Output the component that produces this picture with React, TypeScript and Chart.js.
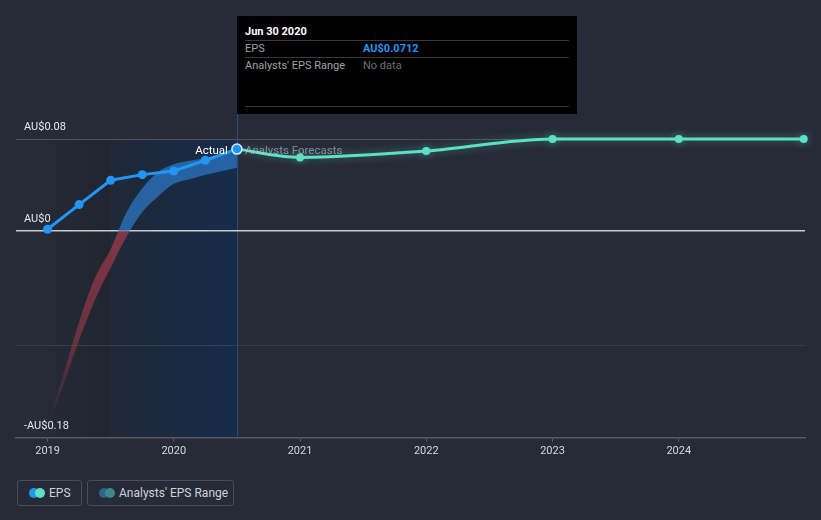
import React, { useEffect, useRef } from "react";
import { Chart, registerables } from "chart.js";

Chart.register(...registerables);

// ---- data ----
const actualDates = [2019.0, 2019.25, 2019.5, 2019.75, 2020.0, 2020.25, 2020.5];
const actualEps = [0.0015, 0.0229, 0.0441, 0.049, 0.0522, 0.0615, 0.0712];

const forecastDates = [2020.5, 2021.0, 2022.0, 2023.0, 2024.0, 2024.99];
const forecastEps = [0.0712, 0.064, 0.0695, 0.08, 0.08, 0.08];

const rangeDates = [2019.0, 2019.125, 2019.25, 2019.375, 2019.5, 2019.625, 2019.75, 2019.875, 2020.0, 2020.125, 2020.25, 2020.375, 2020.5];
const rangeHigh = [-0.17, -0.125, -0.079, -0.041, -0.016, 0.016, 0.037, 0.051, 0.058, 0.061, 0.0635, 0.066, 0.0687];
const rangeLow = [-0.17, -0.134, -0.095, -0.06, -0.032, -0.005, 0.0165, 0.03, 0.041, 0.045, 0.049, 0.052, 0.055];

const yearTicks = [2019, 2020, 2021, 2022, 2023, 2024];
const yTicks = [-0.18, -0.1, 0, 0.08];
const yLabels: Record<string, string> = { "-0.18": "-AU$0.18", "-0.1": "", "0": "AU$0", "0.08": "AU$0.08" };

const pastStart = 2019.0;
const highlightStart = 2019.5;
const highlightEnd = 2020.5;

const FONT = "Roboto, 'Open Sans', sans-serif";
const BG = "#262b37";
const BLUE = "#2196f3";
const TEAL = "#5de0c5";

const shadePlugin = {
  id: "shade",
  beforeDraw(chart: any) {
    const { ctx, chartArea, scales } = chart;
    const x = scales.x;
    const x0 = x.getPixelForValue(pastStart);
    const x1 = x.getPixelForValue(highlightStart);
    const x2 = x.getPixelForValue(highlightEnd);
    const top = chartArea.top;
    const bottom = chartArea.bottom;
    ctx.save();
    let g = ctx.createLinearGradient(x0, 0, x1, 0);
    g.addColorStop(0, "rgba(0,0,0,0)");
    g.addColorStop(1, "rgba(0,0,0,0.14)");
    ctx.fillStyle = g;
    ctx.fillRect(x0, top, x1 - x0, bottom - top);
    g = ctx.createLinearGradient(x1, 0, x2, 0);
    g.addColorStop(0, "#1f2937");
    g.addColorStop(1, "#172b4b");
    ctx.fillStyle = g;
    ctx.fillRect(x1, top, x2 - x1, bottom - top);
    ctx.strokeStyle = "rgba(33,150,243,0.35)";
    ctx.lineWidth = 1;
    ctx.beginPath();
    ctx.moveTo(Math.round(x2) + 0.5, 114);
    ctx.lineTo(Math.round(x2) + 0.5, bottom);
    ctx.stroke();
    ctx.restore();
  },
  beforeDatasetDraw(chart: any, args: any) {
    if (args.index === 1) {
      chart.ctx.save();
      chart.ctx.shadowColor = "rgba(93,224,197,0.45)";
      chart.ctx.shadowBlur = 8;
    }
  },
  afterDatasetDraw(chart: any, args: any) {
    if (args.index === 1) chart.ctx.restore();
  },
  afterDatasetsDraw(chart: any) {
    const { ctx, scales } = chart;
    const px = scales.x.getPixelForValue(highlightEnd);
    const py = scales.y.getPixelForValue(actualEps[actualEps.length - 1]);
    ctx.save();
    ctx.font = `11.5px ${FONT}`;
    ctx.textBaseline = "middle";
    ctx.textAlign = "right";
    ctx.fillStyle = "#ffffff";
    ctx.fillText("Actual", px - 9, py + 2);
    ctx.textAlign = "left";
    ctx.fillStyle = "rgba(200,200,200,0.6)";
    ctx.fillText("Analysts Forecasts", px + 8, py + 2);
    ctx.restore();
  },
};

function bandFill(context: any) {
  const chart = context.chart;
  const { chartArea, scales } = chart;
  if (!chartArea) return "rgba(44,120,200,0.7)";
  const zero = scales.y.getPixelForValue(0);
  const t = Math.min(1, Math.max(0, (zero - chartArea.top) / (chartArea.bottom - chartArea.top)));
  const g = chart.ctx.createLinearGradient(0, chartArea.top, 0, chartArea.bottom);
  g.addColorStop(0, "rgba(44,120,200,0.72)");
  g.addColorStop(t, "rgba(44,120,200,0.72)");
  g.addColorStop(Math.min(1, t + 0.001), "rgba(165,60,75,0.72)");
  g.addColorStop(Math.min(1, t + 0.35), "rgba(165,60,75,0.55)");
  g.addColorStop(1, "rgba(165,60,75,0)");
  return g;
}

function EpsChart() {
  const ref = useRef<HTMLCanvasElement | null>(null);
  useEffect(() => {
    if (!ref.current) return;
    const lastIdx = actualEps.length - 1;
    const chart = new Chart(ref.current, {
      type: "line",
      data: {
        datasets: [
          {
            label: "EPS",
            data: actualDates.map((d, i) => ({ x: d, y: actualEps[i] })),
            borderColor: BLUE,
            backgroundColor: BLUE,
            borderWidth: 3,
            tension: 0,
            pointRadius: actualEps.map((_, i) => (i === lastIdx ? 5 : 4.5)),
            pointBackgroundColor: BLUE,
            pointBorderColor: actualEps.map((_, i) => (i === lastIdx ? "#d8ecff" : BLUE)),
            pointBorderWidth: actualEps.map((_, i) => (i === lastIdx ? 1.5 : 0)),
            clip: false as any,
          },
          {
            label: "Forecast",
            data: forecastDates.map((d, i) => ({ x: d, y: forecastEps[i] })),
            borderColor: TEAL,
            backgroundColor: TEAL,
            borderWidth: 3,
            cubicInterpolationMode: "monotone",
            pointRadius: forecastEps.map((_, i) => (i === 0 ? 0 : 4)),
            pointBackgroundColor: TEAL,
            pointBorderWidth: 0,
            clip: false as any,
          },
          {
            label: "High",
            data: rangeDates.map((d, i) => ({ x: d, y: rangeHigh[i] })),
            borderWidth: 0,
            borderColor: "rgba(0,0,0,0)",
            pointRadius: 0,
            cubicInterpolationMode: "monotone",
            fill: "+1",
            backgroundColor: bandFill,
          },
          {
            label: "Low",
            data: rangeDates.map((d, i) => ({ x: d, y: rangeLow[i] })),
            borderWidth: 0,
            borderColor: "rgba(0,0,0,0)",
            pointRadius: 0,
            cubicInterpolationMode: "monotone",
            fill: false,
          },
        ],
      },
      options: {
        animation: false,
        responsive: false,
        maintainAspectRatio: false,
        layout: { padding: { left: 0, right: 16, top: 139, bottom: 9 } },
        plugins: { legend: { display: false }, tooltip: { enabled: false } },
        scales: {
          x: {
            type: "linear",
            min: 2018.75,
            max: 2025.0,
            afterBuildTicks: (scale: any) => {
              scale.ticks = yearTicks.map((v) => ({ value: v }));
            },
            ticks: {
              callback: (v: any) => String(v),
              color: "#d6d8dc",
              font: { family: FONT, size: 11 },
              padding: 3,
              maxRotation: 0,
            },
            grid: { drawOnChartArea: false, drawTicks: true, tickLength: 4, color: "#555b66" },
            border: { color: "#555b66", width: 1.5 },
          },
          y: {
            type: "linear",
            min: -0.18,
            max: 0.08,
            afterBuildTicks: (scale: any) => {
              scale.ticks = yTicks.map((v) => ({ value: v }));
            },
            ticks: {
              mirror: true,
              padding: 8,
              labelOffset: -12,
              callback: (v: any) => yLabels[String(v)] ?? "",
              color: "#e6e7ea",
              font: { family: FONT, size: 11 },
            },
            grid: {
              drawTicks: false,
              color: (c: any) => {
                const v = c.tick ? c.tick.value : null;
                if (v === 0) return "#c8cacf";
                if (v === 0.08) return "#4b5262";
                if (v === -0.1) return "#383e4b";
                return "rgba(0,0,0,0)";
              },
              lineWidth: (c: any) => (c.tick && c.tick.value === 0 ? 1.5 : 1),
            },
            border: { display: false },
          },
        },
      },
      plugins: [shadePlugin],
    } as any);
    return () => chart.destroy();
  }, []);
  return <canvas ref={ref} width={821} height={470} style={{ position: "absolute", left: 0, top: 0, width: 821, height: 470 }} />;
}

const sep: React.CSSProperties = { position: "absolute", left: 8, right: 8, height: 1, background: "#3a3a3a" };

export default function App() {
  useEffect(() => {
    document.body.style.margin = "0";
    document.body.style.background = BG;
  }, []);
  const legendBox: React.CSSProperties = {
    position: "absolute",
    top: 480,
    height: 26,
    border: "1px solid #474e5c",
    borderRadius: 3,
    boxSizing: "border-box",
    display: "flex",
    alignItems: "center",
    color: "#cfd2d8",
    fontSize: 12,
    fontFamily: FONT,
  };
  const dot = (c: string, left: number): React.CSSProperties => ({
    position: "absolute",
    left,
    top: 7,
    width: 10,
    height: 10,
    borderRadius: 5,
    background: c,
  });
  return (
    <div style={{ position: "fixed", left: 0, top: 0, width: 821, height: 520, background: BG, overflow: "hidden", fontFamily: FONT }}>
      <EpsChart />
      <div style={{ position: "absolute", left: 237, top: 16, width: 340, height: 98, background: "#000", fontFamily: FONT, fontSize: 11 }}>
        <div style={{ position: "absolute", left: 8, top: 9, color: "#fff", fontWeight: 700, fontSize: 11 }}>Jun 30 2020</div>
        <div style={{ ...sep, top: 24 }} />
        <div style={{ position: "absolute", left: 8, top: 26, color: "#a0a3a8" }}>EPS</div>
        <div style={{ position: "absolute", left: 126, top: 26, color: BLUE, fontWeight: 700 }}>AU$0.0712</div>
        <div style={{ ...sep, top: 41 }} />
        <div style={{ position: "absolute", left: 8, top: 43, color: "#a0a3a8" }}>Analysts' EPS Range</div>
        <div style={{ position: "absolute", left: 126, top: 43, color: "#6d7076" }}>No data</div>
        <div style={{ ...sep, top: 90 }} />
      </div>
      <div style={{ ...legendBox, left: 17, width: 65 }}>
        <div style={dot(BLUE, 11)} />
        <div style={dot(TEAL, 17)} />
        <span style={{ position: "absolute", left: 31, top: 5 }}>EPS</span>
      </div>
      <div style={{ ...legendBox, left: 87, width: 147 }}>
        <div style={dot("#2a6494", 11)} />
        <div style={dot("#3c8a88", 17)} />
        <span style={{ position: "absolute", left: 31, top: 5 }}>Analysts' EPS Range</span>
      </div>
    </div>
  );
}
